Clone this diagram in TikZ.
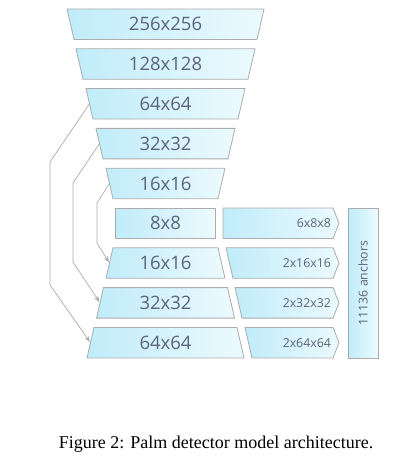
\documentclass[tikz,border=0pt]{standalone}
\usepackage{fontspec}
\setmainfont{Liberation Serif}
\newfontfamily\boxfont{Open Sans}
\usetikzlibrary{arrows.meta}

\definecolor{boxleft}{RGB}{192,236,250}
\definecolor{boxright}{RGB}{236,250,254}
\definecolor{boxline}{RGB}{172,172,172}
\definecolor{boxtext}{RGB}{92,100,122}
\definecolor{skipline}{RGB}{170,170,170}

\begin{document}
\begin{tikzpicture}[x=1pt,y=-1pt,
                    layer/.style={draw=boxline,line width=0.8pt,left color=boxleft,right color=boxright},
                    biglabel/.style={text=boxtext,inner sep=0pt,font=\boxfont\fontsize{18.5}{20}\selectfont},
                    smalllabel/.style={text=boxtext,inner sep=0pt,font=\boxfont\fontsize{12.3}{14}\selectfont},
                    skip/.style={draw=skipline,line width=0.7pt,shorten >=1pt,-{Stealth[length=6pt,width=4.5pt]}}
                ]
                    \useasboundingbox (0,0) rectangle (404,470);
                    % encoder / decoder column
                    \foreach \nm/\yt/\tw/\bw/\lab in {r1/9/98.5/91.5/256x256, r2/48.8/89.5/82.5/128x128,
                                                      r3/88.6/79.5/72.5/64x64, r4/128.4/69.5/62.5/32x32,
                                                      r5/168.2/59.5/52.5/16x16, r6/208/50/50/8x8,
                                                      r7/247.8/52.5/59.5/16x16, r8/287.6/62/69/32x32,
                                                      r9/327.4/71.5/78.5/64x64}{
                        \path[layer] (165.5-\tw,\yt) -- (165.5+\tw,\yt) -- (165.5+\bw,\yt+30.5)
                                     -- (165.5-\bw,\yt+30.5) -- cycle;
                        \node[biglabel] (\nm) at (165.5,\yt+15.25) {\lab};
                        \coordinate (\nm-w) at (165.5-\tw/2-\bw/2,\yt+15.25);
                    }
                    % heads
                    \foreach \nm/\yt/\lt/\lb/\lab in {h6/208/223/223/6x8x8, h7/247.8/226/233/2x16x16,
                                                      h8/287.6/235/242/2x32x32, h9/327.4/245/252/2x64x64}{
                        \path[layer] (\lt,\yt) -- (333,\yt) -- (339,\yt+15.25) -- (333,\yt+30.5)
                                     -- (\lb,\yt+30.5) -- cycle;
                        \node[smalllabel,anchor=east] (\nm) at (331,\yt+15.25) {\lab};
                    }
                    \path[layer] (348,208) rectangle (378,357.9);
                    \node[smalllabel,rotate=90] (anchors) at (363,283) {11136 anchors};
                    % skip connections
                    \draw[skip] (r3-w) -- (50,162) -- (50,285) -- (r9-w);
                    \draw[skip] (r4-w) -- (73,183) -- (73,262) -- (r8-w);
                    \draw[skip] (r5-w) -- (97,203) -- (97,243) -- (r7-w);
                    \node[font=\fontsize{18}{22}\selectfont] (caption) at (216,444)
                        {Figure 2: Palm detector model architecture.};
                \end{tikzpicture}
\end{document}
